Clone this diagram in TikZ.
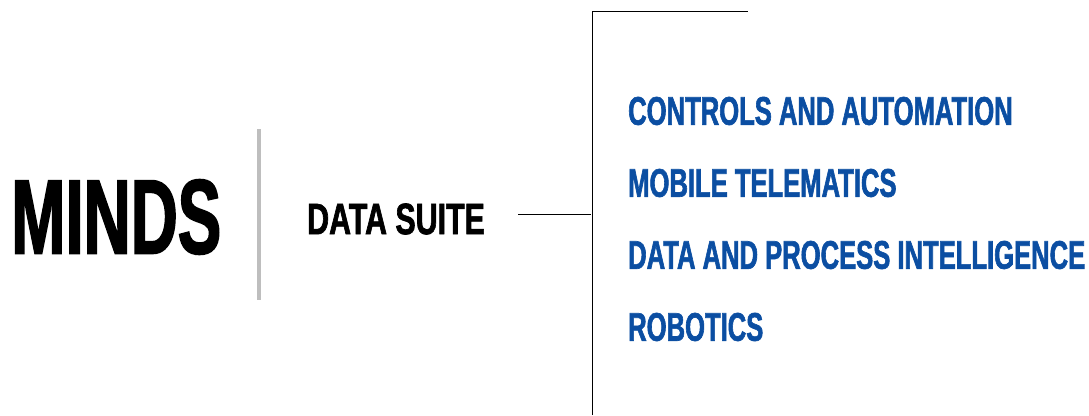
\documentclass[tikz,border=0pt]{standalone}
\usepackage{fontspec}
\setmainfont{Liberation Sans}
\newfontfamily\brandfont[FakeStretch=0.615,FakeBold=1.5]{Liberation Sans Bold}
\newfontfamily\suitefont[FakeStretch=0.69,FakeBold=1.5]{Liberation Sans Bold}
\newfontfamily\itemfont[FakeStretch=0.64,FakeBold=1.5]{Liberation Sans Bold}
\definecolor{mindsblue}{HTML}{0B4EA2}
\definecolor{barcolor}{HTML}{BEBEBE}
\tikzset{
  brand/.style={anchor=west, inner sep=0pt, font=\brandfont\fontsize{106}{106}\selectfont},
  suite/.style={anchor=west, inner sep=0pt, font=\suitefont\fontsize{44}{44}\selectfont},
  item/.style={anchor=west, inner sep=0pt, text=mindsblue, font=\itemfont\fontsize{40}{40}\selectfont},
}
\begin{document}
\begin{tikzpicture}[x=1pt, y=-1pt]

  \useasboundingbox (0, 0) rectangle (1089, 415);

  \node[brand] (MINDS) at (11, 217) {MINDS};
  \node[suite] (SUITE) at (307, 219) {DATA SUITE};

  \node[item] (CONTROLS) at (628, 111) {CONTROLS AND AUTOMATION};
  \node[item] (MOBILE) at (628, 183) {MOBILE TELEMATICS};
  \node[item] (DATA) at (628, 255) {DATA AND PROCESS INTELLIGENCE};
  \node[item] (ROBOTICS) at (628, 327) {ROBOTICS};

  \coordinate (barTop) at (259, 129);
  \coordinate (barBottom) at (259, 300);
  \coordinate (stemLeft) at (518, 214);
  \coordinate (stemRight) at (591, 214);
  \coordinate (trunkBottom) at (592, 415);
  \coordinate (trunkTop) at (592, 11);
  \coordinate (trunkEnd) at (748, 11);

  \draw[barcolor, line width=4pt] (barTop) -- (barBottom);
  \draw[line width=1pt] (stemLeft) -- (stemRight);
  \draw[line width=1pt] (trunkBottom) -- (trunkTop) -- (trunkEnd);

\end{tikzpicture}
\end{document}
